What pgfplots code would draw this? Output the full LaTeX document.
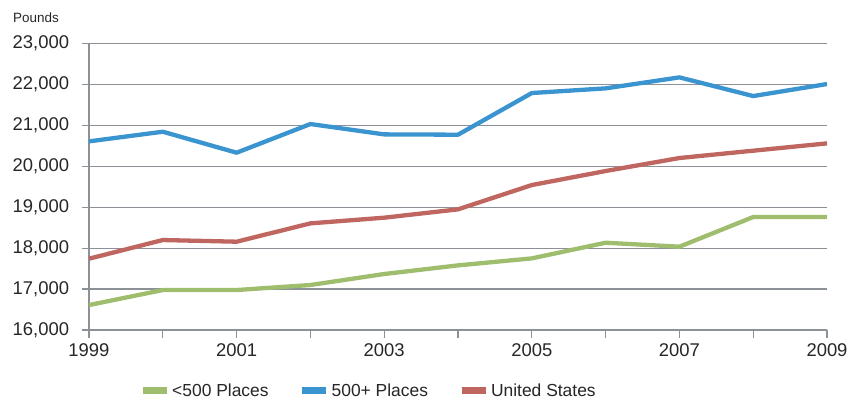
\documentclass[border=0pt]{standalone}
\usepackage{pgfplots}
\pgfplotsset{compat=1.18}
\usepackage{fontspec}
\setmainfont{Liberation Sans}
\definecolor{cblue}{RGB}{58,148,208}
\definecolor{cred}{RGB}{192,102,96}
\definecolor{cgreen}{RGB}{158,190,110}
\definecolor{cgrid}{RGB}{140,145,152}
\begin{document}
\begin{tikzpicture}
\useasboundingbox (-89bp,-71bp) rectangle (772bp,330bp);
\begin{axis}[
  at={(0,0)}, anchor=south west,
  scale only axis, width=738bp, height=286.3bp,
  xmin=1999, xmax=2009, ymin=16000, ymax=23000,
  axis x line=bottom, axis y line=left,
  axis line style={-, draw=cgrid, line width=1.4bp},
  xtick={1999,2000,...,2009},
  xticklabels={1999,,2001,,2003,,2005,,2007,,2009},
  ytick={16000,17000,...,23000},
  scaled y ticks=false,
  ymajorgrids,
  grid style={draw=cgrid, line width=1.3bp},
  tick align=outside,
  major tick length=7.5bp,
  xtick style={draw=cgrid, line width=1.3bp},
  ytick style={draw=cgrid, line width=1.3bp},
  /pgf/number format/.cd, fixed, precision=0, 1000 sep={,}, assume math mode=true, /pgfplots/.cd,
  yticklabel style={font=\fontsize{18.5}{20}\selectfont, text=black!85},
  xticklabel style={font=\fontsize{18.5}{20}\selectfont, text=black!85},
  yticklabel shift=9bp,
  xticklabel shift=3bp,
  legend columns=3,
  legend style={draw=none, at={(0.0637,-0.213)}, anchor=west,
    font=\fontsize{17.5}{19}\selectfont, text=black!85,
    /tikz/every even column/.append style={column sep=28bp}},
  legend image code/.code={\draw[#1, line width=7bp] (0bp,0bp) -- (24bp,0bp);},
]
\addplot[cgreen, line width=4.3bp, line join=round] coordinates {
 (1999,16610) (2000,16977) (2001,16977) (2002,17100) (2003,17369) (2004,17580)
 (2005,17751) (2006,18134) (2007,18037) (2008,18762) (2009,18762)};
\addlegendentry{<500 Places}
\addplot[cblue, line width=4.3bp, line join=round] coordinates {
 (1999,20612) (2000,20848) (2001,20335) (2002,21036) (2003,20783) (2004,20775)
 (2005,21794) (2006,21908) (2007,22177) (2008,21720) (2009,22014)};
\addlegendentry{500+ Places}
\addplot[cred, line width=4.3bp, line join=round] coordinates {
 (1999,17743) (2000,18200) (2001,18159) (2002,18607) (2003,18746) (2004,18950)
 (2005,19544) (2006,19887) (2007,20205) (2008,20384) (2009,20563)};
\addlegendentry{United States}
\end{axis}
\node[anchor=west, font=\fontsize{13.5}{15}\selectfont, text=black!85, inner sep=0pt] at (-76bp,312bp) {Pounds};
\end{tikzpicture}
\end{document}
